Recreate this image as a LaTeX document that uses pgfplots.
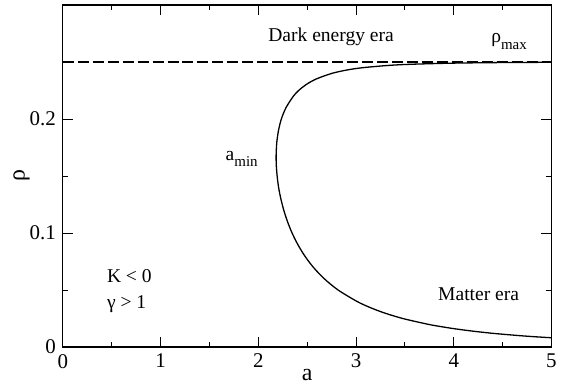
\documentclass[border=0pt]{standalone}
\usepackage{fontspec}
\setmainfont{Liberation Serif}
\usepackage{pgfplots}
\pgfplotsset{compat=1.18}

\begin{document}
\begin{tikzpicture}
\useasboundingbox (-31.5pt,-19.5pt) rectangle (256.3pt,174pt);
\begin{axis}[
    at={(0,0)}, anchor=south west,
    scale only axis,
    width=245pt, height=171.5pt,
    xmin=0, xmax=5, ymin=0, ymax=0.3,
    xtick={0,1,2,3,4,5},
    ytick={0,0.1,0.2},
    yticklabels={0,0.1,0.2},
    minor x tick num=1,
    minor ytick={0.05,0.15,0.25},
    major tick length=5pt,
    minor tick length=2.5pt,
    tick align=inside,
    axis line style={line width=0.6pt},
    every tick/.style={black, line width=0.5pt},
    tick label style={font=\fontsize{10.5}{11}\selectfont},
    /pgf/number format/assume math mode=true,
    xlabel={a},
    ylabel={ρ},
    label style={font=\fontsize{12}{13}\selectfont},
    xlabel style={at={(axis description cs:0.5,0)}, anchor=center, yshift=-14pt},
    ylabel style={at={(axis description cs:-0.0845,0.5)}, anchor=center},
    clip=true,
]
% rho_max
\addplot[black, line width=0.6pt, dash pattern=on 5.5pt off 2pt] coordinates {(0,0.25) (5,0.25)};
% a(rho) curve
\addplot[black, line width=0.65pt, smooth] coordinates {
 (5.000,0.00815) (4.836,0.009) (4.674,0.010) (4.403,0.012) (4.190,0.014)
 (4.012,0.016) (3.864,0.018) (3.735,0.020) (3.480,0.025) (3.287,0.030)
 (3.135,0.035) (3.010,0.040) (2.817,0.050) (2.674,0.060) (2.563,0.070)
 (2.475,0.080) (2.404,0.090) (2.346,0.100) (2.299,0.110) (2.261,0.120)
 (2.231,0.130) (2.208,0.140) (2.193,0.150) (2.184,0.160) (2.1825,0.1667)
 (2.183,0.170) (2.190,0.180) (2.207,0.190) (2.236,0.200) (2.284,0.210)
 (2.359,0.220) (2.413,0.225) (2.486,0.230) (2.590,0.235) (2.752,0.240)
 (2.908,0.243) (3.067,0.245) (3.332,0.247) (3.559,0.248) (3.989,0.249)
 (4.475,0.2495) (5.000,0.24975)
};
\node[font=\fontsize{9.8}{10}\selectfont] at (axis cs:2.745,0.272) {Dark energy era};
\node[font=\fontsize{9.8}{10}\selectfont] at (axis cs:4.566,0.268) {ρ\raisebox{-3.5pt}{\fontsize{7.5}{8}\selectfont max}};
\node[font=\fontsize{9.8}{10}\selectfont] at (axis cs:1.83,0.165) {a\raisebox{-3.5pt}{\fontsize{7.5}{8}\selectfont min}};
\node[font=\fontsize{9.8}{10}\selectfont, anchor=west] at (axis cs:0.38,0.062) {K < 0};
\node[font=\fontsize{9.8}{10}\selectfont, anchor=west] at (axis cs:0.38,0.038) {γ > 1};
\node[font=\fontsize{9.8}{10}\selectfont] at (axis cs:4.255,0.046) {Matter era};
\end{axis}
\end{tikzpicture}
\end{document}
